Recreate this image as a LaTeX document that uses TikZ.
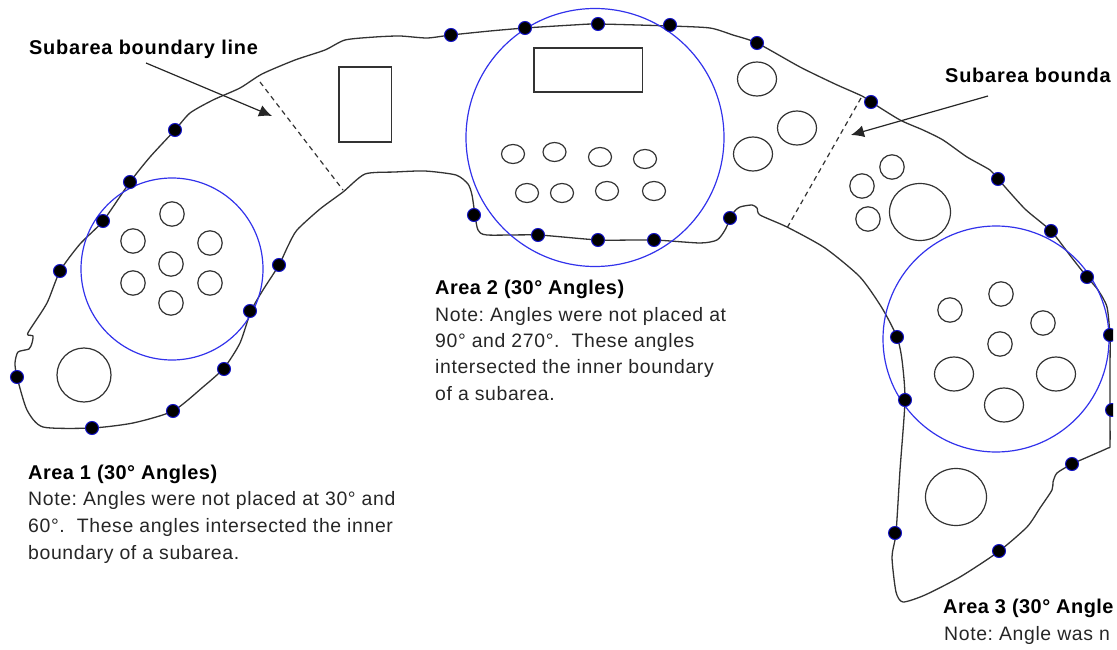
\documentclass[tikz,border=0pt]{standalone}
\usepackage{fontspec}
\setmainfont{Liberation Sans}
\newfontfamily\labelfont[LetterSpace=3.9]{Liberation Sans Bold}
\newfontfamily\titlefont[LetterSpace=2.4]{Liberation Sans Bold}
\newfontfamily\notefont[LetterSpace=3.2]{Liberation Sans}
\usetikzlibrary{arrows.meta}
\definecolor{zoneblue}{RGB}{50,50,235}
\definecolor{dotblue}{RGB}{20,20,200}
\tikzset{
  x=1bp,y=-1bp,
  outline/.style={draw=black!80,line width=1.3bp,line join=round},
  hole/.style={draw=black!80,line width=1.2bp},
  zone/.style={draw=zoneblue,line width=1.2bp},
  vertex/.style={circle,fill=black,draw=dotblue,line width=1bp,minimum size=13bp,inner sep=0pt},
  divider/.style={draw=black!80,line width=1.2bp,dash pattern=on 5bp off 4bp},
  pointer/.style={draw=black!85,line width=1.2bp,-{Latex[length=13bp,width=12bp]}},
  boldlabel/.style={anchor=west,inner sep=0pt,font=\fontsize{20}{24}\labelfont},
  boldtitle/.style={anchor=west,inner sep=0pt,font=\fontsize{20}{24}\titlefont},
  notetext/.style={anchor=north west,inner sep=0pt,align=left,text=black!85},
}
\frenchspacing
\begin{document}
\begin{tikzpicture}
\useasboundingbox (0,0) rectangle (1117,650);
\begin{scope}
\clip (0,0) rectangle (1113,650);
% boundary
\draw[outline] plot[smooth cycle,tension=0.4] coordinates {
 (17,377)(15,363)(18,352)(29,349)(32,343)(33,336)(28,335)(29,331)(47,303)(60,271)
 (80,244)(103,221)(130,182)(150,157)(175,130)(190,113)(213,100)(240,88)(262,74)(295,60)(325,50)(345,40)
 (375,37)(400,36)(427,38)(451,35)(490,31)(525,28)(573,25)(598,24)(670,26)(710,28)(733,35)(757,43)
 (800,67)(835,84)(862,96)(871,102)(900,120)(923,130)(943,140)(967,157)(990,170)(998,179)
 (1025,209)(1051,231)(1072,258)(1087,277)(1098,290)(1107,307)(1110,337)(1110,370)(1110,410)(1110,445)(1108,448)
 (1090,456)(1072,464)(1057,473)(1053,482)(1052,490)(1040,508)(1027,527)(998,552)(960,577)(925,595)(903,602)(896,592)
 (892,557)(896,533)(900,470)(905,400)(902,360)(897,337)(882,308)(860,277)(825,248)(787,227)
 (760,215)(757,208)(752,205)(740,207)(733,213)(725,230)(717,240)(700,243)(654,240)(599,240)(538,235)
 (487,235)(478,230)(475,215)(472,195)(468,184)(456,175)(425,171)(395,172)(365,174)(343,192)
 (320,209)(297,230)(288,246)(279,265)(263,290)(251,311)(240,343)(224,368)(203,387)(173,411)(133,423)(92,428)
 (43,427)(27,410)};
% dividers
\coordinate (d1a) at (260,82); \coordinate (d1b) at (343,190);
\coordinate (d2a) at (861,98); \coordinate (d2b) at (787,228);
\draw[divider] (d1a) -- (d1b);
\draw[divider] (d2a) -- (d2b);
% rectangles
\draw[hole] (339,67) rectangle (391.5,142);
\draw[hole] (534,48) rectangle (642.5,92);
% area 1 holes
\foreach \x/\y in {172/214,133/241,210/243,171/264,133/283,210/283,171/303}
  \draw[hole] (\x,\y) circle [radius=12.2bp];
\draw[hole] (84,375) circle [radius=27bp];
% area 2 holes
\foreach \x/\y in {513/154,554.5/152,600/157,645/159,527/193,562/193,607/191,654/191}
  \draw[hole] (\x,\y) ellipse [x radius=11.5bp,y radius=9.5bp];
\foreach \x/\y in {757/79,797/128,753/154}
  \draw[hole] (\x,\y) ellipse [x radius=19.5bp,y radius=17bp];
% area 3 holes
\foreach \x/\y in {862/186,892/167,868/219,950/310,1001/294,1043/323,1000/344}
  \draw[hole] (\x,\y) circle [radius=12.2bp];
\foreach \x/\y in {954/374,1056/374,1004/405}
  \draw[hole] (\x,\y) ellipse [x radius=19.5bp,y radius=17bp];
\draw[hole] (920,212) ellipse [x radius=30.5bp,y radius=28.5bp];
\draw[hole] (956,497) ellipse [x radius=30.5bp,y radius=28.5bp];
% search circles
\draw[zone] (172,269) circle [radius=91bp];
\draw[zone] (595,137.5) circle [radius=129bp];
\draw[zone] (996,339) circle [radius=113bp];
% vertices
\foreach \n/\x/\y in {a/451/35,b/525/28,c/598/24,d/670/25,e/757/43,f/871/102,g/998/179,h/1051/231,i/1087/277,j/1110/335,k/1112/410,l/1072/464,m/999/551,n/895/533,o/905/400,p/897/337,q/730/218,r/654/240,s/598/240,t/538/235,u/474/215,v/279/265,w/250/311,x/224/369,y/173/411,z/92/428,aa/17/377,ab/60/271,ac/103/221,ad/130/182,ae/175/130}
  \node[vertex] (dot\n) at (\x,\y) {};
% labels
\node[boldlabel] (lab1) at (29,49) {Subarea boundary line};
\node[boldlabel] (lab2) at (945,75) {Subarea bounda};
\coordinate (s1) at (146,63); \coordinate (t1) at (272,116);
\coordinate (s2) at (988,96); \coordinate (t2) at (851,135);
\draw[pointer] (s1) -- (t1);
\draw[pointer] (s2) -- (t2);
\node[boldtitle] (a1t) at (28,474) {Area 1 (30° Angles)};
\node[notetext,font=\fontsize{19.5}{27.4}\notefont] (a1n) at (28,491) {Note: Angles were not placed at 30° and\\60°.~~These angles intersected the inner\\boundary of a subarea.};
\node[boldtitle] (a2t) at (435,289) {Area 2 (30° Angles)};
\node[notetext,font=\fontsize{19.5}{26.4}\notefont] (a2n) at (435,307) {Note: Angles were not placed at\\90° and 270°.~~These angles\\intersected the inner boundary\\of a subarea.};
\node[boldtitle] (a3t) at (943,608) {Area 3 (30° Angle};
\node[notetext,font=\fontsize{19.5}{26}\notefont] (a3n) at (944,626) {Note: Angle was n};
\end{scope}
\end{tikzpicture}
\end{document}
